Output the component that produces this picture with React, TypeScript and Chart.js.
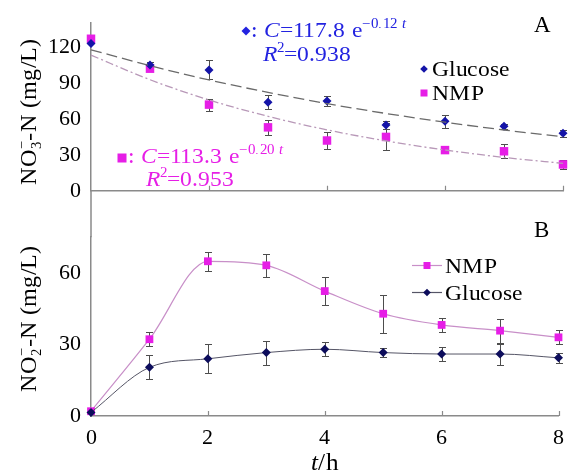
import React, { useEffect, useRef } from 'react';
import { Chart, registerables } from 'chart.js';
Chart.register(...registerables);

// ---------- data ----------
const times = [0, 1, 2, 3, 4, 5, 6, 7, 8];
const xTickLabels = [0, 2, 4, 6, 8];
const yTicksA = [0, 30, 60, 90, 120];
const yTicksB = [0, 30, 60];

// Panel A: NO3- -N (mg/L)
const no3Glucose = [123, 105, 101, 74, 75, 55, 58, 54, 48];
const no3GlucoseErr = [0, 2.5, 8, 5.8, 4.2, 3, 5.3, 2, 3];
const no3Nmp = [127, 102, 72, 53, 42, 45, 34, 33, 22];
const no3NmpErr = [0, 2, 5, 6.3, 7.3, 11.3, 2, 5.8, 4];
const no3GlucoseFit = [117.8, 104.5, 92.6, 82.2, 72.8, 64.6, 57.3, 50.8, 45.1];
const no3NmpFit = [113.3, 92.8, 75.9, 62.2, 50.9, 41.7, 34.1, 27.9, 22.9];

// Panel B: NO2- -N (mg/L)
const no2Nmp = [2, 32.2, 64.9, 63.2, 52.4, 42.9, 38.2, 35.8, 33];
const no2NmpErr = [0, 3, 4.1, 4.9, 6, 8, 3, 5, 3];
const no2Glucose = [1.5, 20.4, 24, 26.6, 28, 26.6, 26, 26, 24.4];
const no2GlucoseErr = [0, 5, 6, 5, 3, 2, 3, 4.4, 2];

// ---------- styles ----------
const FAMILY = '"LibSerifLocal", "Liberation Serif", "Times New Roman", serif';
const AXIS = '#8a8a8a';
const BLUE_MARK = '#1414a8';
const BLUE_TEXT = '#2323e0';
const MAGENTA = '#e61ee6';
const NAVY = '#0d0d5c';

type Seg = { t: string; i?: boolean; sup?: boolean; sub?: boolean; stay?: boolean };

function segFont(s: Seg, size: number) {
  const sz = Math.round((s.sup || s.sub ? size * 0.62 : size) * 10) / 10;
  return `${s.i ? 'italic ' : ''}${sz}px ${FAMILY}`;
}
function richWidth(ctx: CanvasRenderingContext2D, segs: Seg[], size: number) {
  let w = 0;
  for (const s of segs) {
    ctx.font = segFont(s, size);
    if (!s.stay) w += ctx.measureText(s.t).width;
  }
  return w;
}
function drawRich(
  ctx: CanvasRenderingContext2D,
  x: number,
  y: number,
  segs: Seg[],
  size: number,
  color: string,
  sx = 1.07
) {
  ctx.save();
  ctx.translate(x, y);
  ctx.scale(sx, 1);
  ctx.fillStyle = color;
  ctx.textBaseline = 'alphabetic';
  ctx.textAlign = 'left';
  let cx = 0;
  for (const s of segs) {
    ctx.font = segFont(s, size);
    const dy = s.sup ? -size * 0.4 : s.sub ? size * 0.22 : 0;
    ctx.fillText(s.t, cx, dy);
    if (!s.stay) cx += ctx.measureText(s.t).width;
  }
  ctx.restore();
}
function drawRotTitle(ctx: CanvasRenderingContext2D, cx: number, cy: number, segs: Seg[], size: number) {
  ctx.save();
  ctx.translate(cx, cy);
  ctx.rotate(-Math.PI / 2);
  const sx = 1.05;
  const w = richWidth(ctx, segs, size) * sx;
  drawRich(ctx, -w / 2, size * 0.33, segs, size, '#000', sx);
  ctx.restore();
}
function diamond(ctx: CanvasRenderingContext2D, x: number, y: number, r: number, color: string) {
  ctx.save();
  ctx.fillStyle = color;
  ctx.beginPath();
  ctx.moveTo(x - r, y);
  ctx.lineTo(x, y - r);
  ctx.lineTo(x + r, y);
  ctx.lineTo(x, y + r);
  ctx.closePath();
  ctx.fill();
  ctx.restore();
}
function square(ctx: CanvasRenderingContext2D, x: number, y: number, s: number, color: string) {
  ctx.save();
  ctx.fillStyle = color;
  ctx.fillRect(x - s / 2, y - s / 2, s, s);
  ctx.restore();
}
function innerTicks(chart: any) {
  const ctx = chart.ctx;
  const xs = chart.scales.x;
  const { bottom } = chart.chartArea;
  ctx.save();
  ctx.strokeStyle = AXIS;
  ctx.lineWidth = 1.2;
  ctx.beginPath();
  xTickLabels.forEach((v) => {
    if (v === 0) return;
    const x = Math.round(xs.getPixelForValue(v)) + 0.5;
    ctx.moveTo(x, bottom);
    ctx.lineTo(x, bottom - 5);
  });
  ctx.stroke();
  ctx.restore();
}

const errorBars = {
  id: 'errorBars',
  beforeDatasetsDraw(chart: any) {
    const ctx = chart.ctx;
    chart.data.datasets.forEach((ds: any, i: number) => {
      const errs: number[] | undefined = ds.errors;
      if (!errs) return;
      const meta = chart.getDatasetMeta(i);
      const ys = chart.scales[meta.yAxisID];
      const xs = chart.scales[meta.xAxisID];
      ctx.save();
      ctx.strokeStyle = '#4d4d4d';
      ctx.lineWidth = 1;
      ctx.beginPath();
      ds.data.forEach((p: any, j: number) => {
        const e = errs[j];
        if (!e) return;
        const x = Math.round(xs.getPixelForValue(p.x)) + 0.5;
        const y1 = Math.round(ys.getPixelForValue(p.y - e)) + 0.5;
        const y2 = Math.round(ys.getPixelForValue(p.y + e)) + 0.5;
        ctx.moveTo(x, y1);
        ctx.lineTo(x, y2);
        ctx.moveTo(x - 3.5, y1);
        ctx.lineTo(x + 3.5, y1);
        ctx.moveTo(x - 3.5, y2);
        ctx.lineTo(x + 3.5, y2);
      });
      ctx.stroke();
      ctx.restore();
    });
  },
};

const pts = (vals: number[]) => times.map((t, k) => ({ x: t, y: vals[k] }));

const tickFont = { family: FAMILY, size: 22 };

export default function App() {
  const topRef = useRef<HTMLCanvasElement>(null);
  const botRef = useRef<HTMLCanvasElement>(null);

  useEffect(() => {
    let dead = false;
    const decoA = {
      id: 'decoA',
      afterDraw(chart: any) {
        const ctx = chart.ctx as CanvasRenderingContext2D;
        const { left, bottom, top } = chart.chartArea;
        ctx.save();
        ctx.strokeStyle = AXIS;
        ctx.lineWidth = 1.5;
        ctx.beginPath();
        ctx.moveTo(left, bottom);
        ctx.lineTo(left, chart.height);
        ctx.stroke();
        ctx.restore();
        innerTicks(chart);
        drawRotTitle(
          ctx,
          28,
          (top + bottom) / 2 + 5,
          [{ t: 'NO' }, { t: '3', sub: true, stay: true }, { t: '−', sup: true }, { t: '-N (mg/L)' }],
          23
        );
        ctx.save();
        ctx.font = `23px ${FAMILY}`;
        ctx.fillStyle = '#000';
        ctx.textAlign = 'center';
        ctx.textBaseline = 'middle';
        ctx.fillText('A', 542, 26);
        ctx.restore();
        diamond(ctx, 246, 31, 4.5, BLUE_TEXT);
        drawRich(
          ctx,
          251,
          37,
          [{ t: ': ' }, { t: 'C', i: true }, { t: '=117.8 e' }, { t: '−0.12 ', sup: true }, { t: 't', sup: true, i: true }],
          22,
          BLUE_TEXT
        );
        drawRich(ctx, 263, 61, [{ t: 'R', i: true }, { t: '2', sup: true }, { t: '=0.938' }], 22, BLUE_TEXT);
        square(ctx, 122, 158, 9, MAGENTA);
        drawRich(
          ctx,
          128,
          163,
          [{ t: ': ' }, { t: 'C', i: true }, { t: '=113.3 e' }, { t: '−0.20 ', sup: true }, { t: 't', sup: true, i: true }],
          22,
          MAGENTA
        );
        drawRich(ctx, 146, 186, [{ t: 'R', i: true }, { t: '2', sup: true }, { t: '=0.953' }], 22, MAGENTA);
        diamond(ctx, 424, 69, 3.8, BLUE_MARK);
        drawRich(ctx, 432, 76, [{ t: 'Glucose' }], 22, '#000');
        square(ctx, 424, 93, 7, MAGENTA);
        drawRich(ctx, 432, 100, [{ t: 'NMP' }], 22, '#000');
      },
    };

    const decoB = {
      id: 'decoB',
      afterDraw(chart: any) {
        const ctx = chart.ctx as CanvasRenderingContext2D;
        const { left, top, bottom, right } = chart.chartArea;
        ctx.save();
        ctx.strokeStyle = AXIS;
        ctx.lineWidth = 1.5;
        ctx.beginPath();
        ctx.moveTo(left, 0);
        ctx.lineTo(left, top);
        ctx.stroke();
        ctx.restore();
        innerTicks(chart);
        drawRotTitle(
          ctx,
          28,
          (top + bottom) / 2 - 8,
          [{ t: 'NO' }, { t: '2', sub: true, stay: true }, { t: '−', sup: true }, { t: '-N (mg/L)' }],
          23
        );
        ctx.save();
        ctx.font = `23px ${FAMILY}`;
        ctx.fillStyle = '#000';
        ctx.textAlign = 'center';
        ctx.textBaseline = 'middle';
        ctx.fillText('B', 541, 17);
        ctx.restore();
        ctx.save();
        ctx.lineWidth = 1.2;
        ctx.strokeStyle = '#c88fc8';
        ctx.beginPath();
        ctx.moveTo(412, 51.5);
        ctx.lineTo(442, 51.5);
        ctx.stroke();
        ctx.strokeStyle = '#555566';
        ctx.beginPath();
        ctx.moveTo(412, 78.5);
        ctx.lineTo(442, 78.5);
        ctx.stroke();
        ctx.restore();
        square(ctx, 427, 51.5, 7, MAGENTA);
        diamond(ctx, 427, 78.5, 3.8, NAVY);
        drawRich(ctx, 445, 59, [{ t: 'NMP' }], 22, '#000');
        drawRich(ctx, 445, 86, [{ t: 'Glucose' }], 22, '#000');
        const segs: Seg[] = [{ t: 't', i: true }, { t: '/h' }];
        const w = richWidth(ctx, segs, 24) * 1.05;
        drawRich(ctx, (left + right) / 2 - w / 2, 256, segs, 24, '#000', 1.05);
      },
    };

    const xBase = (hideLabels: boolean, height: number) => ({
      type: 'linear' as const,
      min: 0,
      max: 8,
      afterBuildTicks: (s: any) => {
        s.ticks = xTickLabels.map((v) => ({ value: v }));
      },
      ticks: { display: !hideLabels, font: tickFont, color: '#000', padding: 9, maxRotation: 0 },
      grid: { display: false, drawTicks: false },
      border: { display: true, color: AXIS, width: 1.5 },
      afterFit: (s: any) => {
        s.height = height;
      },
    });
    const yBase = (max: number, tickVals: number[]) => ({
      type: 'linear' as const,
      min: 0,
      max,
      afterBuildTicks: (s: any) => {
        s.ticks = tickVals.map((v) => ({ value: v }));
      },
      ticks: { font: tickFont, color: '#000', padding: 10 },
      grid: { display: false, drawTicks: false },
      border: { display: true, color: AXIS, width: 1.5 },
      afterFit: (s: any) => {
        s.width = 91;
      },
    });

    const c1 = new Chart(topRef.current!, {
      type: 'line',
      data: {
        datasets: [
          {
            data: pts(no3GlucoseFit),
            borderColor: '#6a6a6a',
            borderWidth: 1.3,
            borderDash: [11, 5],
            pointRadius: 0,
            cubicInterpolationMode: 'monotone',
            clip: false as any,
          },
          {
            data: pts(no3NmpFit),
            borderColor: '#b898b8',
            borderWidth: 1.3,
            borderDash: [8, 3, 2, 3],
            pointRadius: 0,
            cubicInterpolationMode: 'monotone',
            clip: false as any,
          },
          {
            data: pts(no3Glucose),
            errors: no3GlucoseErr,
            showLine: false,
            pointStyle: 'rectRot',
            pointRadius: 4.5,
            backgroundColor: BLUE_MARK,
            borderColor: BLUE_MARK,
            borderWidth: 0,
            clip: false as any,
          } as any,
          {
            data: pts(no3Nmp),
            errors: no3NmpErr,
            showLine: false,
            pointStyle: 'rect',
            pointRadius: 6,
            backgroundColor: MAGENTA,
            borderColor: MAGENTA,
            borderWidth: 0,
            clip: false as any,
          } as any,
        ],
      },
      options: {
        responsive: false,
        animation: false,
        events: [],
        layout: { padding: { top: 11, right: 10, left: 0, bottom: 0 } },
        plugins: { legend: { display: false }, tooltip: { enabled: false } },
        scales: { x: xBase(true, 2) as any, y: yBase(140, yTicksA) as any },
      },
      plugins: [errorBars, decoA],
    });

    const c2 = new Chart(botRef.current!, {
      type: 'line',
      data: {
        datasets: [
          {
            data: pts(no2Glucose),
            errors: no2GlucoseErr,
            borderColor: '#555566',
            borderWidth: 1,
            cubicInterpolationMode: 'monotone',
            pointStyle: 'rectRot',
            pointRadius: 4.5,
            backgroundColor: NAVY,
            pointBorderWidth: 0,
            clip: false as any,
          } as any,
          {
            data: pts(no2Nmp),
            errors: no2NmpErr,
            borderColor: '#c88fc8',
            borderWidth: 1.2,
            cubicInterpolationMode: 'monotone',
            pointStyle: 'rect',
            pointRadius: 5.5,
            backgroundColor: MAGENTA,
            pointBorderWidth: 0,
            clip: false as any,
          } as any,
        ],
      },
      options: {
        responsive: false,
        animation: false,
        events: [],
        layout: { padding: { top: 12, right: 10, left: 0, bottom: 0 } },
        plugins: { legend: { display: false }, tooltip: { enabled: false } },
        scales: { x: xBase(false, 59) as any, y: yBase(75, yTicksB) as any },
      },
      plugins: [errorBars, decoB],
    });

    const redraw = () => {
      if (dead) return;
      c1.update('none');
      c2.update('none');
    };
    try {
      const FF: any = (window as any).FontFace;
      const faces = [
        new FF('LibSerifLocal', 'local("Liberation Serif"), local("LiberationSerif")', { style: 'normal' }),
        new FF('LibSerifLocal', 'local("Liberation Serif Italic"), local("LiberationSerif-Italic")', {
          style: 'italic',
        }),
      ];
      Promise.allSettled(faces.map((f: any) => f.load())).then((res) => {
        res.forEach((r: any, k) => {
          if (r.status === 'fulfilled') (document as any).fonts.add(faces[k]);
        });
        redraw();
      });
    } catch (e) {
      /* ignore */
    }
    const t1 = setTimeout(redraw, 150);
    const t2 = setTimeout(redraw, 600);

    return () => {
      dead = true;
      clearTimeout(t1);
      clearTimeout(t2);
      c1.destroy();
      c2.destroy();
    };
  }, []);

  return (
    <div style={{ position: 'absolute', left: 0, top: 0, width: 573, height: 475, background: '#fff' }}>
      <canvas
        ref={topRef}
        width={573}
        height={214}
        style={{ position: 'absolute', left: 0, top: 0, width: 573, height: 214 }}
      />
      <canvas
        ref={botRef}
        width={573}
        height={261}
        style={{ position: 'absolute', left: 0, top: 214, width: 573, height: 261 }}
      />
    </div>
  );
}
